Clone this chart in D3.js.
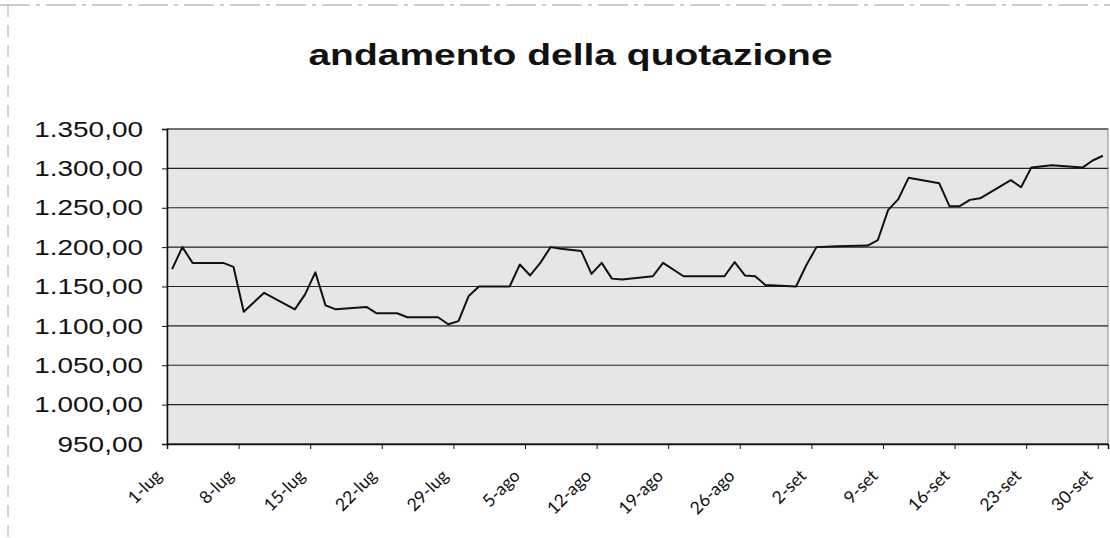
<!DOCTYPE html>
<html><head><meta charset="utf-8">
<script src="https://cdn.jsdelivr.net/npm/d3@7"></script>
<style>body{margin:0;background:#fff}</style>
</head><body><svg id="c" width="1110" height="538"></svg>
<script>
const title = "andamento della quotazione";
const dates = ["2009-07-01","2009-07-02","2009-07-03","2009-07-06","2009-07-07","2009-07-08","2009-07-10","2009-07-13","2009-07-14","2009-07-15","2009-07-16","2009-07-17","2009-07-20","2009-07-21","2009-07-23","2009-07-24","2009-07-27","2009-07-28","2009-07-29","2009-07-30","2009-07-31","2009-08-03","2009-08-04","2009-08-05","2009-08-06","2009-08-07","2009-08-08","2009-08-10","2009-08-11","2009-08-12","2009-08-13","2009-08-14","2009-08-17","2009-08-18","2009-08-20","2009-08-24","2009-08-25","2009-08-26","2009-08-27","2009-08-28","2009-08-31","2009-09-01","2009-09-02","2009-09-04","2009-09-07","2009-09-08","2009-09-09","2009-09-10","2009-09-11","2009-09-14","2009-09-15","2009-09-16","2009-09-17","2009-09-18","2009-09-21","2009-09-22","2009-09-23","2009-09-25","2009-09-28","2009-09-29","2009-09-30"];
const values = [1172,1200,1180,1180,1175,1118,1142,1121,1140,1168,1126,1121,1124,1116,1116,1111,1111,1102,1106,1138,1150,1150,1178,1164,1180,1200,1198,1195,1166,1180,1160,1159,1163,1180,1163,1163,1181,1164,1163,1152,1150,1177,1200,1201,1202,1209,1247,1261,1288,1281,1252,1252,1260,1262,1285,1276,1301,1304,1301,1310,1316];
const yTicks = [950,1000,1050,1100,1150,1200,1250,1300,1350];
const xTickLabels = ["1-lug","8-lug","15-lug","22-lug","29-lug","5-ago","12-ago","19-ago","26-ago","2-set","9-set","16-set","23-set","30-set"];

const SX = 1.3; // horizontal stretch of the scanned original
const svg = d3.select("#c");
const L = 167, R = 1108, T = 129, B = 444;
const parse = d3.utcParse("%Y-%m-%d");
const start = parse(dates[0]);
const end = d3.utcDay.offset(parse(dates[dates.length-1]), 1);
const x = d3.scaleUtc().domain([start, end]).range([L, R]);
const y = d3.scaleLinear().domain([950, 1350]).range([B, T]);
const it = d3.formatLocale({decimal: ",", thousands: ".", grouping: [3], currency: ["", ""]});
const fmt = it.format(",.2f");

// outer frame (scan edges)
svg.append("line").attr("x1", 0).attr("x2", 1110).attr("y1", 5).attr("y2", 5)
  .attr("stroke", "#999").attr("stroke-dasharray", "30 6 4 6");
svg.append("line").attr("x1", 8).attr("x2", 8).attr("y1", 5).attr("y2", 538)
  .attr("stroke", "#aaa").attr("stroke-dasharray", "12 8");

// title
svg.append("text").attr("transform", `translate(${(L+R)/2 - 67},65) scale(${SX},1)`)
  .attr("text-anchor", "middle").attr("font-family", "Liberation Sans, Arial, sans-serif")
  .attr("font-weight", "bold").attr("font-size", 30).attr("fill", "#111").text(title);

// plot area
svg.append("rect").attr("x", L).attr("y", T).attr("width", R - L).attr("height", B - T)
  .attr("fill", "#e6e6e6").attr("stroke", "#888").attr("stroke-width", 1);

// gridlines
svg.append("g").selectAll("line").data(yTicks).join("line")
  .attr("x1", L).attr("x2", R).attr("y1", d => y(d)).attr("y2", d => y(d))
  .attr("stroke", "#222").attr("stroke-width", 1.2);

// y axis
const yAxis = svg.append("g").attr("transform", `translate(${L},0)`)
  .call(d3.axisLeft(y).tickValues(yTicks).tickSize(5).tickFormat(""));
yAxis.select(".domain").attr("stroke", "#111").attr("stroke-width", 1.5);
yAxis.selectAll(".tick line").attr("stroke", "#111");
svg.append("g").selectAll("text").data(yTicks).join("text")
  .attr("transform", d => `translate(${L - 24},${y(d)}) scale(${SX},1)`)
  .attr("dy", "0.36em").attr("text-anchor", "end")
  .attr("font-family", "Liberation Sans, Arial, sans-serif").attr("font-size", 21.5)
  .attr("fill", "#111").text(d => fmt(d));

// x axis
const xTicks = d3.range(xTickLabels.length).map(i => d3.utcDay.offset(start, i * 7));
const xAxis = svg.append("g").attr("transform", `translate(0,${B})`)
  .call(d3.axisBottom(x).tickValues(xTicks).tickSize(5).tickFormat(""));
xAxis.select(".domain").attr("stroke", "#111").attr("stroke-width", 1.5);
xAxis.selectAll(".tick line").attr("stroke", "#111");
svg.append("g").selectAll("text").data(xTicks).join("text")
  .attr("transform", d => `translate(${x(d) - 4},${B + 33}) rotate(-45)`)
  .attr("text-anchor", "end")
  .attr("font-family", "Lato, 'Open Sans', sans-serif").attr("font-size", 17.5)
  .attr("fill", "#111").text((d, i) => xTickLabels[i]);

// line
const pts = dates.map((d, i) => ({t: d3.utcHour.offset(parse(d), 12), v: values[i]}));
svg.append("path").datum(pts)
  .attr("fill", "none").attr("stroke", "#111").attr("stroke-width", 2)
  .attr("stroke-linejoin", "round")
  .attr("d", d3.line().x(d => x(d.t)).y(d => y(d.v)));
</script></body></html>
